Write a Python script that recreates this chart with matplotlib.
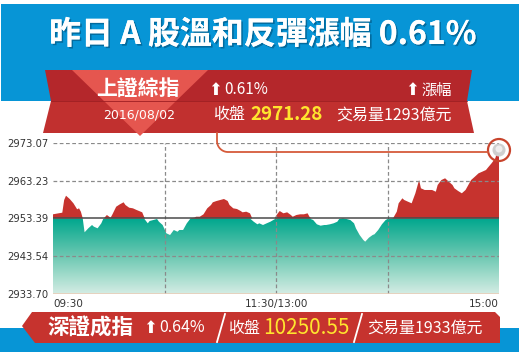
import numpy as np
import matplotlib.pyplot as plt
import matplotlib.patheffects as pe
from matplotlib.patches import Polygon, Circle
from matplotlib.colors import LinearSegmentedColormap

plt.rcParams['font.family'] = ['Noto Sans CJK TC', 'DejaVu Sans']

# minutes of trading since 09:30 (lunch break removed) and index level
minutes = [0, 3, 5, 6, 7, 9, 11, 13, 14, 15, 16, 17, 19, 21, 22, 24, 26, 27, 29, 31,
           32, 34, 36, 38, 39, 41, 43, 45, 48, 49, 51, 52, 54, 56, 57, 59, 61, 63, 65, 67,
           68, 70, 72, 74, 76, 77, 79, 81, 83, 85, 86, 88, 90, 92, 94, 95, 97, 99, 101, 102,
           104, 106, 108, 110, 111, 113, 115, 117, 119, 120, 121, 122, 124, 126, 128, 129, 131, 133, 135, 137,
           138, 140, 142, 144, 146, 147, 149, 151, 153, 154, 156, 158, 160, 162, 163, 165, 167, 168, 170, 172,
           173, 175, 177, 179, 180, 183, 185, 186, 188, 189, 191, 193, 195, 197, 198, 200, 202, 204, 206, 207,
           209, 211, 213, 215, 216, 218, 220, 222, 224, 225, 227, 229, 231, 233, 234, 236, 238, 239, 240]
prices = [2954.48, 2954.74, 2954.90, 2958.21, 2959.33, 2958.47, 2957.35, 2955.78, 2956.04, 2955.16,
          2953.44, 2949.79, 2950.83, 2951.69, 2951.25, 2950.83, 2952.13, 2953.25, 2954.30, 2953.59,
          2954.48, 2956.46, 2957.09, 2957.61, 2956.90, 2956.20, 2956.04, 2955.60, 2955.00, 2953.85,
          2952.13, 2952.73, 2952.99, 2953.25, 2952.55, 2951.69, 2949.53, 2949.08, 2950.39, 2949.94,
          2950.39, 2950.39, 2952.13, 2953.44, 2953.59, 2953.85, 2953.85, 2954.48, 2956.04, 2956.90,
          2957.61, 2957.95, 2958.21, 2958.47, 2957.95, 2956.90, 2956.04, 2955.86, 2955.34, 2955.00,
          2955.16, 2954.74, 2952.55, 2951.87, 2952.13, 2951.69, 2952.13, 2952.55, 2953.12, 2954.04,
          2954.74, 2955.34, 2954.74, 2955.00, 2954.30, 2953.85, 2954.30, 2954.48, 2954.48, 2954.74,
          2953.85, 2952.99, 2951.87, 2951.51, 2951.69, 2951.69, 2951.87, 2952.13, 2952.55, 2953.25,
          2953.44, 2953.25, 2952.99, 2952.13, 2950.83, 2949.08, 2947.78, 2947.34, 2948.38, 2949.08,
          2949.27, 2950.39, 2951.87, 2952.99, 2953.25, 2953.44, 2955.16, 2957.35, 2958.65, 2958.21,
          2957.77, 2957.35, 2959.96, 2963.42, 2961.26, 2960.82, 2960.82, 2960.82, 2960.37, 2962.12,
          2963.42, 2963.87, 2962.98, 2962.12, 2961.26, 2960.56, 2959.96, 2960.82, 2962.56, 2963.42,
          2964.28, 2965.17, 2965.59, 2966.03, 2966.63, 2967.78, 2969.08, 2970.65, 2971.28]

prev_close = 2953.39
y_ticks = [2933.70, 2943.54, 2953.39, 2963.23, 2973.07]
x_ticks = [0, 120, 240]
x_labels = ['09:30', '11:30/13:00', '15:00']
v_grid = [60, 120, 180]

title = '昨日 A 股溫和反彈漲幅 0.61%'
sh_name, sh_date, sh_chg, sh_close, sh_vol = '上證綜指', '2016/08/02', '0.61%', '2971.28', '交易量1293億元'
sz_name, sz_chg, sz_close, sz_vol = '深證成指', '0.64%', '10250.55', '交易量1933億元'

blue = '#0795d6'
red = '#c6332e'
yellow = '#ffe52e'

fig = plt.figure(figsize=(5.22, 3.52), dpi=100)

# background layer (pixel coords)
bg = fig.add_axes([0, 0, 1, 1], zorder=0)
bg.set_xlim(0, 522)
bg.set_ylim(352, 0)
bg.axis('off')
bg.add_patch(Polygon([(1, 4), (519, 4), (519, 101), (1, 101)], color=blue, lw=0))
bg.add_patch(Polygon([(0, 328), (519, 328), (519, 352), (0, 352)], color=blue, lw=0))

# chart
ax = fig.add_axes([53 / 522, 1 - 294 / 352, 446 / 522, 151 / 352], zorder=1)
ax.patch.set_alpha(0)
p = np.array(prices)
poly = ax.fill_between(minutes, y_ticks[0], np.minimum(p, prev_close), color='none', lw=0)
teal = LinearSegmentedColormap.from_list('teal', ['#d4ede4', '#6cc8b2', '#00a78d'])
grad = np.linspace(0, 1, 200).reshape(-1, 1)
img = ax.imshow(grad, cmap=teal, aspect='auto', origin='lower',
                extent=[0, 240, y_ticks[0], prev_close], zorder=1)
img.set_clip_path(poly.get_paths()[0], transform=ax.transData)
ax.fill_between(minutes, prev_close, p, where=p > prev_close, interpolate=True,
                color=red, lw=0, zorder=2)

for v in y_ticks[1:]:
    if v != prev_close:
        ax.axhline(v, color='#8a8a8a', lw=0.9, ls=(0, (3, 2)), zorder=3)
for v in v_grid:
    ax.axvline(v, color='#8a8a8a', lw=0.9, ls=(0, (3, 2)), zorder=3)
ax.axhline(prev_close, color='#4a4a4a', lw=1.1, zorder=4)
ax.axhline(y_ticks[0], color='#e9cdb8', lw=1.2, zorder=4)

ax.set_xlim(0, 240)
ax.set_ylim(y_ticks[0], y_ticks[-1])
ax.set_yticks(y_ticks)
ax.set_yticklabels(['%.2f' % v for v in y_ticks], fontsize=7.2, color='#333333', family='DejaVu Sans')
ax.set_xticks(x_ticks)
ax.set_xticklabels(x_labels, fontsize=7.5, color='#333333', family='DejaVu Sans')
xl = ax.get_xticklabels()
xl[0].set_horizontalalignment('left')
xl[-1].set_horizontalalignment('right')
ax.tick_params(length=0, pad=3.5)
for s in ax.spines.values():
    s.set_visible(False)

# overlay: ribbons and texts
ov = fig.add_axes([0, 0, 1, 1], zorder=2)
ov.set_xlim(0, 522)
ov.set_ylim(352, 0)
ov.axis('off')
ov.patch.set_alpha(0)

ov.text(263, 35, title, fontsize=23, fontweight='bold', color='white', ha='center', va='center',
        path_effects=[pe.withSimplePatchShadow(offset=(1.2, -1.2), shadow_rgbFace='#00507a', alpha=0.6),
                      pe.Normal()])

# top ribbon
ov.add_patch(Polygon([(45, 70), (472, 70), (467, 101), (51, 101)], color='#b4272b', lw=0))
ov.add_patch(Polygon([(51, 101), (467, 101), (474, 133), (43, 133)], color='#c1302f', lw=0))
ov.add_patch(Polygon([(72, 70), (208, 70), (140, 136)], color='#e5564f', lw=0))
ov.plot([51, 467], [101, 101], color='#9e1f23', lw=0.6)

ov.text(138, 89, sh_name, fontsize=15, fontweight='bold', color='white', ha='center', va='center')
ov.text(139, 115, sh_date, fontsize=9, color='white', ha='center', va='center', family='DejaVu Sans')
ov.text(222, 90, '⬆', fontsize=12, color='white', ha='right', va='center', family=['DejaVu Sans'])
ov.text(224, 90, sh_chg, fontsize=11, color='white', ha='left', va='center')
ov.text(419, 90, '⬆', fontsize=12, color='white', ha='right', va='center', family=['DejaVu Sans'])
ov.text(452, 90, '漲幅', fontsize=11, color='white', ha='right', va='center')
ov.text(213, 115, '收盤', fontsize=11.5, color='white', ha='left', va='center')
ov.text(250, 115, sh_close, fontsize=13.5, fontweight='bold', color=yellow, ha='left', va='center')
ov.text(452, 115, sh_vol, fontsize=11.5, color='white', ha='right', va='center')

# connector to last point
t = np.linspace(np.pi, 1.5 * np.pi, 20)
cx = np.concatenate([[217, 217], 228 + 11 * np.cos(t), [488]])
cy = np.concatenate([[133, 141], 141 - 11 * np.sin(t), [152]])
ov.plot(cx, cy, color='#d65a3a', lw=1.3)
ov.add_patch(Circle((499, 150), 11, fill=False, ec='#c8442c', lw=1.6))
ov.add_patch(Circle((499, 150), 6.5, color='#cfcfcf', lw=0))
ov.add_patch(Circle((499, 149), 3.5, color='#eeeeee', lw=0))

# bottom ribbon
ov.add_patch(Polygon([(22, 326), (32, 312), (495, 312), (500, 317), (500, 343), (35, 343)],
                     color=red, lw=0))
ov.plot([225, 217], [314, 342], color='white', lw=1.3)
ov.plot([362, 354], [314, 342], color='white', lw=1.3)
ov.text(47, 328, sz_name, fontsize=15.5, fontweight='bold', color='white', ha='left', va='center')
ov.text(157, 328, '⬆', fontsize=12, color='white', ha='right', va='center', family=['DejaVu Sans'])
ov.text(159, 328, sz_chg, fontsize=11.5, color='white', ha='left', va='center')
ov.text(228, 328, '收盤', fontsize=11.5, color='white', ha='left', va='center')
ov.text(263, 328, sz_close, fontsize=15, color=yellow, ha='left', va='center')
ov.text(367, 328, sz_vol, fontsize=11.5, color='white', ha='left', va='center')

fig.savefig('out.png', dpi=100)
